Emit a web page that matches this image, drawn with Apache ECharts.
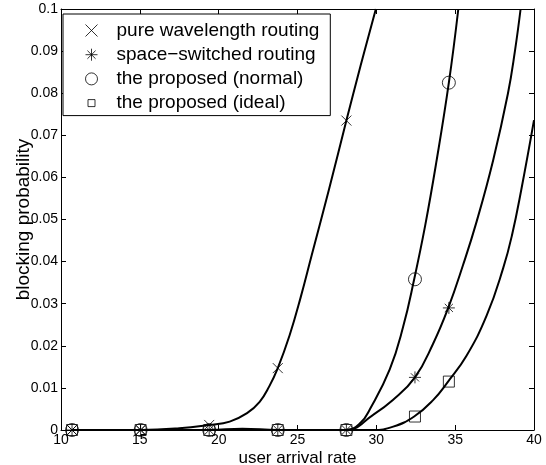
<!DOCTYPE html>
<html>
<head>
<meta charset="utf-8">
<script src="https://cdn.jsdelivr.net/npm/echarts@6/dist/echarts.min.js"></script>
<style>
html,body{margin:0;padding:0;background:#fff;}
#chart{width:546px;height:465px;}
</style>
</head>
<body>
<div id="chart"></div>
<script>
// ---- data ----
const seriesNames = ['pure wavelength routing', 'space\u2212switched routing', 'the proposed (normal)', 'the proposed (ideal)'];
const xTicks = [10, 15, 20, 25, 30, 35, 40];
const yTicks = [0, 0.01, 0.02, 0.03, 0.04, 0.05, 0.06, 0.07, 0.08, 0.09, 0.1];

// marker (simulation) points
const pureMarkX = [10.7, 15.05, 19.4, 23.75, 28.1];
const pureMarkY = [0, 0, 0.0012, 0.0147, 0.0735];
const spaceMarkX = [10.7, 15.05, 19.4, 23.75, 28.1, 32.45, 34.6];
const spaceMarkY = [0, 0, 0, 0, 0, 0.0125, 0.029];
const normalMarkX = [10.7, 15.05, 19.4, 23.75, 28.1, 32.45, 34.6];
const normalMarkY = [0, 0, 0, 0, 0, 0.0358, 0.0825];
const idealMarkX = [10.7, 15.05, 19.4, 23.75, 28.1, 32.45, 34.6];
const idealMarkY = [0, 0, 0, 0, 0, 0.0032, 0.0115];

// analytic curves
const pureCurveX = [10.7, 15.05, 17.5, 19.4, 20.7, 21.8, 22.6, 23.2, 23.75, 24.5, 25.2, 25.9, 27.0, 28.1, 29.0, 29.97];
const pureCurveY = [0, 0, 0.0004, 0.0012, 0.002, 0.004, 0.0067, 0.0103, 0.0147, 0.0225, 0.0315, 0.0415, 0.0572, 0.0735, 0.0865, 0.1];
const spaceCurveX = [10.7, 15.05, 19.4, 21.5, 23.75, 28.1, 29.8, 31.05, 32.45, 33.6, 34.55, 35.5, 36.36, 37.41, 38.35, 38.79, 39.15];
const spaceCurveY = [0, 0, 0, 0.0003, 0, 0, 0.0036, 0.0071, 0.0125, 0.0205, 0.0289, 0.0392, 0.0495, 0.0641, 0.08, 0.09, 0.1];
const normalCurveX = [10.7, 15.05, 19.4, 23.75, 28.1, 29.0, 29.6, 30.85, 31.7, 32.4, 33.1, 33.8, 34.6, 35.2];
const normalCurveY = [0, 0, 0, 0, 0, 0.0017, 0.005, 0.0144, 0.0245, 0.0358, 0.0486, 0.0635, 0.0825, 0.1];
const idealCurveX = [10.7, 15.05, 19.4, 23.75, 28.1, 29.8, 31.07, 32.4, 33.6, 34.55, 35.7, 37.0, 38.05, 38.6, 39.2, 40];
const idealCurveY = [0, 0, 0, 0, 0, 0, 0.0008, 0.0032, 0.0071, 0.0115, 0.0175, 0.0272, 0.0385, 0.0462, 0.0572, 0.0736];

// ---- chart ----
const FONT = '"Liberation Sans", Arial, Helvetica, sans-serif';
const CROSS = 'path://M0,0L10,10M10,0L0,10';
const STAR = 'path://M5,0L5,10M0,5L10,5M1.6,1.6L8.4,8.4M8.4,1.6L1.6,8.4';
const SQUARE_LEG = 'path://M0,0M12,12M2.5,2.5L9.5,2.5L9.5,9.5L2.5,9.5Z';

function zip(xs, ys) { return xs.map((x, i) => [x, ys[i]]); }

const markStyle = { color: 'rgba(0,0,0,0)', borderColor: '#000', borderWidth: 1 };
function curve(xs, ys) {
  return {
    type: 'line', data: zip(xs, ys), showSymbol: false, symbol: 'none',
    smooth: 0.45, clip: true, silent: true,
    lineStyle: { color: '#000', width: 2 }, z: 2
  };
}
function marks(name, xs, ys, symbol, size) {
  return {
    name: name, type: 'scatter', data: zip(xs, ys), symbol: symbol, symbolSize: size,
    itemStyle: markStyle, z: 3, clip: false
  };
}

const axisCommon = {
  axisLine: { show: true, onZero: false, lineStyle: { color: '#000', width: 1 } },
  axisTick: { show: true, inside: true, length: 5, lineStyle: { color: '#000' } },
  splitLine: { show: false }
};

const chart = echarts.init(document.getElementById('chart'), null, { renderer: 'canvas' });
chart.setOption({
  animation: false,
  backgroundColor: '#fff',
  grid: { left: 61, right: 12, top: 9, bottom: 35, containLabel: false, outerBoundsMode: 'none' },
  xAxis: [
    Object.assign({
      type: 'value', min: xTicks[0], max: xTicks[xTicks.length - 1], interval: 5, position: 'bottom',
      name: 'user arrival rate', nameLocation: 'middle', nameGap: 20, nameMoveOverlap: false,
      nameTextStyle: { fontFamily: FONT, fontSize: 17, color: '#000' },
      axisLabel: { show: true, margin: 3, fontFamily: FONT, fontSize: 14, color: '#000' }
    }, axisCommon),
    Object.assign({
      type: 'value', min: xTicks[0], max: xTicks[xTicks.length - 1], interval: 5, position: 'top',
      axisLabel: { show: false }
    }, axisCommon)
  ],
  yAxis: [
    Object.assign({
      type: 'value', min: yTicks[0], max: yTicks[yTicks.length - 1], interval: 0.01, position: 'left',
      name: 'blocking probability', nameLocation: 'middle', nameGap: 28, nameMoveOverlap: false,
      nameTextStyle: { fontFamily: FONT, fontSize: 19, color: '#000' },
      axisLabel: { show: true, margin: 3, fontFamily: FONT, fontSize: 14, color: '#000',
        formatter: v => String(+v.toFixed(2)) }
    }, axisCommon),
    Object.assign({
      type: 'value', min: yTicks[0], max: yTicks[yTicks.length - 1], interval: 0.01, position: 'right',
      axisLabel: { show: false }
    }, axisCommon)
  ],
  legend: {
    orient: 'vertical', left: 63, top: 14,
    padding: [7, 11, 3, 22], itemGap: 5.2,
    itemWidth: 40, itemHeight: 12, symbolKeepAspect: true,
    backgroundColor: '#fff', borderColor: '#000', borderWidth: 1, borderRadius: 0,
    itemStyle: { color: 'rgba(0,0,0,0)', borderColor: '#000', borderWidth: 1 },
    textStyle: { fontFamily: FONT, fontSize: 19, color: '#000', lineHeight: 14 },
    selectedMode: false,
    data: [
      { name: seriesNames[0], icon: CROSS },
      { name: seriesNames[1], icon: STAR },
      { name: seriesNames[2], icon: 'circle' },
      { name: seriesNames[3], icon: SQUARE_LEG }
    ]
  },
  series: [
    curve(pureCurveX, pureCurveY),
    curve(spaceCurveX, spaceCurveY),
    curve(normalCurveX, normalCurveY),
    curve(idealCurveX, idealCurveY),
    marks(seriesNames[0], pureMarkX, pureMarkY, CROSS, 10),
    marks(seriesNames[1], spaceMarkX, spaceMarkY, STAR, 12),
    marks(seriesNames[2], normalMarkX, normalMarkY, 'circle', 13),
    marks(seriesNames[3], idealMarkX, idealMarkY, 'rect', 11)
  ]
});
</script>
</body>
</html>
